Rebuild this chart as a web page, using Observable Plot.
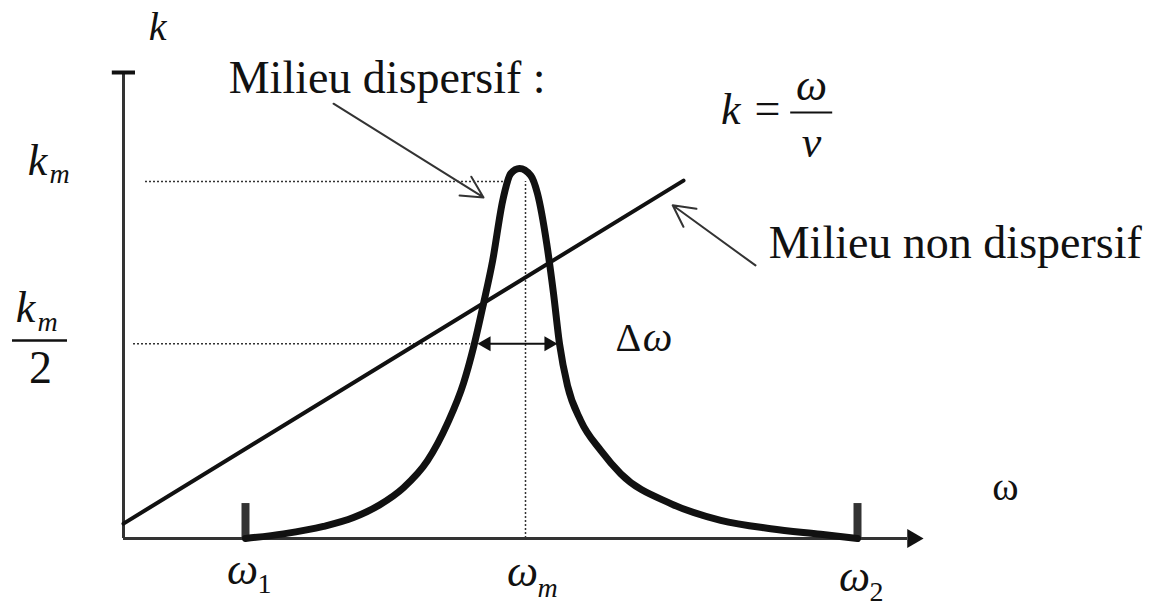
<!DOCTYPE html>
<html>
<head>
<meta charset="utf-8">
<script src="https://cdn.jsdelivr.net/npm/d3@7"></script>
<script src="https://cdn.jsdelivr.net/npm/@observablehq/plot@0.6"></script>
<style>
  body { margin: 0; background: #fff; }
</style>
</head>
<body>
<div id="chart"></div>
<script>
// Dispersion relation k(ω): resonant (dispersive) medium vs. the straight line k = ω/v

// Resonance curve of the dispersive medium (ω in arbitrary units, k in arbitrary units)
const curveOmega = [3.05, 4.0, 5.0, 5.75, 6.4, 7.0, 7.6, 8.1, 8.5, 8.75, 9.0, 9.23, 9.48, 9.68, 9.9,
                    10.18, 10.35, 10.58, 10.75, 10.9, 11.1, 11.43, 11.93, 12.43, 13.68, 14.93, 16.18, 17.43, 18.35];
const curveK     = [0, 0.1, 0.26, 0.45, 0.72, 1.09, 1.67, 2.47, 3.33, 4.10, 5.04, 5.97, 7.25, 7.83, 7.94,
                    7.79, 7.40, 6.33, 5.26, 4.18, 3.28, 2.53, 1.89, 1.39, 0.75, 0.39, 0.21, 0.09, 0];

// Non-dispersive medium: k = ω / v
const lineOmega = [0, 14];
const lineK     = [0.32, 7.68];

// Marked frequencies ω1, ωm, ω2 and their subscripts
const omegaMarks = [3.05, 10.05, 18.35];
const omegaSubs  = ["1", "m", "2"];

// Guide levels k_m and k_m/2
const kLevels = [7.66, 4.18];

// Ends of the Δω width arrow (at the k_m/2 level)
const halfWidth = [8.85, 10.85];

const curve = curveOmega.map((w, i) => ({w, k: curveK[i]}));
const line = lineOmega.map((w, i) => ({w, k: lineK[i]}));

const serif = "'Liberation Serif', 'Times New Roman', serif";
const ink = "#111";
const grey = "#333";
const dotted = {stroke: grey, strokeWidth: 1.5, strokeDasharray: "2,2"};
const italic = {fontFamily: serif, fontStyle: "italic", fill: ink, lineAnchor: "bottom"};
const roman = {fontFamily: serif, fill: ink, lineAnchor: "bottom"};

const chart = Plot.plot({
  width: 1154,
  height: 612,
  marginLeft: 123,
  marginRight: 231,
  marginTop: 72,
  marginBottom: 74,
  x: {domain: [0, 20], axis: null},
  y: {domain: [0, 10], axis: null},
  style: {background: "#fff", overflow: "visible"},
  marks: [
    // dotted guides at k_m, k_m/2 and ω_m
    Plot.ruleY([kLevels[0]], {x1: 0.55, x2: 9.6, ...dotted}),
    Plot.ruleY([kLevels[1]], {x1: 0.25, x2: 8.68, ...dotted}),
    Plot.ruleX([omegaMarks[1]], {y1: 0, y2: kLevels[0], ...dotted}),

    // axes
    Plot.ruleY([0], {x1: 0, x2: 19.6, stroke: grey, strokeWidth: 3}),
    Plot.ruleX([0], {y1: 0, y2: 10, stroke: grey, strokeWidth: 3}),
    Plot.ruleY([10], {x1: -0.28, x2: 0.3, stroke: ink, strokeWidth: 4}),
    Plot.dot([0], {x: 19.73, y: 0, symbol: "triangle", r: 7, fill: ink, stroke: null, rotate: 90}),

    // ticks at ω1 and ω2
    Plot.ruleX([omegaMarks[0], omegaMarks[2]], {y1: 0, y2: 0.75, stroke: grey, strokeWidth: 8}),

    // non-dispersive line and dispersive resonance
    Plot.line(line, {x: "w", y: "k", stroke: ink, strokeWidth: 4}),
    Plot.line(curve, {x: "w", y: "k", curve: "monotone-x", stroke: ink, strokeWidth: 7}),

    // Δω double arrow
    Plot.ruleY([kLevels[1]], {x1: halfWidth[0] + 0.2, x2: halfWidth[1] - 0.2, stroke: ink, strokeWidth: 2}),
    Plot.dot([0], {x: halfWidth[0], y: kLevels[1], dx: 8.7, symbol: "triangle", r: 5.6, fill: ink, stroke: null, rotate: -90}),
    Plot.dot([0], {x: halfWidth[1], y: kLevels[1], dx: -8.7, symbol: "triangle", r: 5.6, fill: ink, stroke: null, rotate: 90}),

    // pointers
    Plot.arrow([0], {x1: 5.25, y1: 9.33, x2: 9.0, y2: 7.32, stroke: grey, strokeWidth: 2, headLength: 18, headAngle: 55}),
    Plot.arrow([0], {x1: 15.8, y1: 5.86, x2: 13.73, y2: 7.15, stroke: grey, strokeWidth: 2, headLength: 18, headAngle: 55}),

    // annotations
    Plot.text(["Milieu dispersif :"], {x: 2.63, y: 9.55, textAnchor: "start", fontSize: 46, ...roman}),
    Plot.text(["Milieu non dispersif"], {x: 16.13, y: 6.03, textAnchor: "start", fontSize: 46, ...roman}),

    // axis names
    Plot.text(["k"], {x: 0.85, y: 10.69, fontSize: 40, ...italic}),
    Plot.text(["ω"], {x: 22.05, y: 0.82, fontSize: 40, ...roman}),

    // ω1, ωm, ω2
    Plot.text(omegaMarks, {x: d => d, y: [-0.97, -1.01, -1.12], text: () => "ω", dx: -3, fontSize: 44, ...italic}),
    Plot.text([omegaMarks[0], omegaMarks[2]], {x: d => d, y: [-1.18, -1.34], text: [omegaSubs[0], omegaSubs[2]], dx: 12, textAnchor: "start", fontSize: 28, ...roman}),
    Plot.text([omegaMarks[1]], {x: d => d, y: [-1.26], text: [omegaSubs[1]], dx: 12, textAnchor: "start", fontSize: 28, ...italic}),

    // k_m
    Plot.text(["k"], {x: -2.15, y: 7.79, fontSize: 44, ...italic}),
    Plot.text(["m"], {x: -1.85, y: 7.62, textAnchor: "start", fontSize: 28, ...italic}),

    // k_m / 2
    Plot.text(["k"], {x: -2.45, y: 4.64, fontSize: 44, ...italic}),
    Plot.text(["m"], {x: -2.15, y: 4.46, textAnchor: "start", fontSize: 28, ...italic}),
    Plot.ruleY([4.25], {x1: -2.775, x2: -1.4, stroke: ink, strokeWidth: 2.5}),
    Plot.text(["2"], {x: -2.075, y: 3.33, fontSize: 46, ...roman}),

    // Δω
    Plot.text(["Δ"], {x: 12.3, y: 4.03, textAnchor: "start", fontSize: 40, ...roman}),
    Plot.text(["ω"], {x: 12.98, y: 4.03, textAnchor: "start", fontSize: 42, ...italic}),

    // k = ω / v
    Plot.text(["k"], {x: 15.18, y: 8.9, fontSize: 44, ...italic}),
    Plot.text(["="], {x: 16.1, y: 8.9, fontSize: 46, ...roman}),
    Plot.text(["ω"], {x: 17.2, y: 9.4, fontSize: 44, ...italic}),
    Plot.ruleY([9.14], {x1: 16.68, x2: 17.73, stroke: ink, strokeWidth: 2}),
    Plot.text(["v"], {x: 17.2, y: 8.18, fontSize: 44, ...italic})
  ]
});

document.getElementById("chart").append(chart);
</script>
</body>
</html>
